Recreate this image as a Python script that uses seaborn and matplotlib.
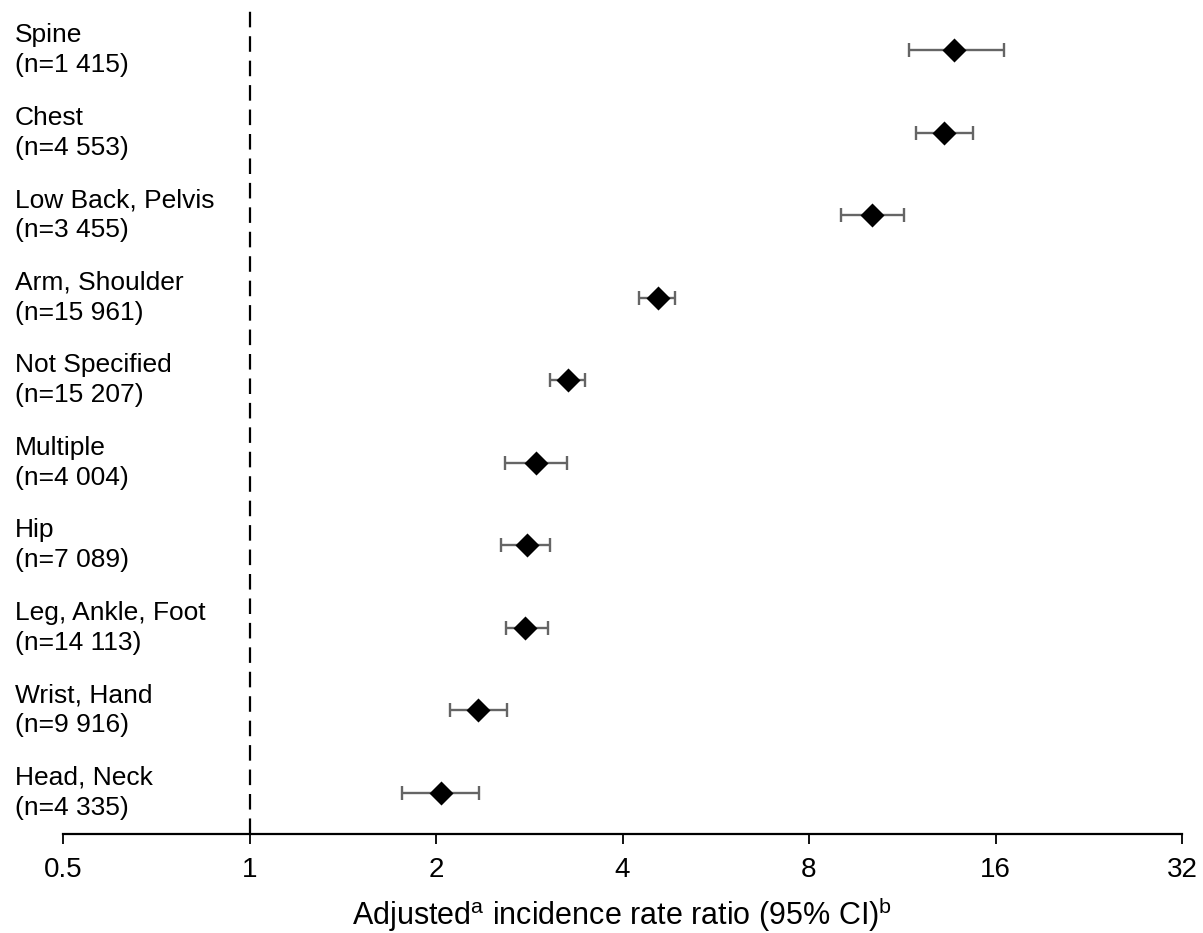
import numpy as np
import pandas as pd
import matplotlib
matplotlib.use("Agg")
import matplotlib.pyplot as plt
import matplotlib.transforms as mtransforms
import seaborn as sns

categories = ["Spine", "Chest", "Low Back, Pelvis", "Arm, Shoulder", "Not Specified",
              "Multiple", "Hip", "Leg, Ankle, Foot", "Wrist, Hand", "Head, Neck"]
counts = ["1 415", "4 553", "3 455", "15 961", "15 207",
          "4 004", "7 089", "14 113", "9 916", "4 335"]
irr = [13.7, 13.2, 10.1, 4.57, 3.27, 2.90, 2.80, 2.78, 2.34, 2.04]
ci_low = [11.6, 11.9, 9.0, 4.26, 3.06, 2.58, 2.55, 2.59, 2.11, 1.76]
ci_high = [16.5, 14.7, 11.4, 4.87, 3.48, 3.25, 3.06, 3.03, 2.60, 2.35]
x_ticks = [0.5, 1, 2, 4, 8, 16, 32]
x_tick_labels = ["0.5", "1", "2", "4", "8", "16", "32"]

sns.set_theme(style="white")
plt.rcParams["font.family"] = ["Liberation Sans", "DejaVu Sans"]
plt.rcParams["mathtext.fontset"] = "custom"
plt.rcParams["mathtext.rm"] = "Liberation Sans"
plt.rcParams["mathtext.it"] = "Liberation Sans:italic"
plt.rcParams["text.color"] = "black"
plt.rcParams["axes.labelcolor"] = "black"
plt.rcParams["xtick.color"] = "black"

df = pd.DataFrame({"cat": categories, "irr": irr, "lo": ci_low, "hi": ci_high})
df["pos"] = np.arange(len(df))

fig = plt.figure(figsize=(12.03, 9.33), dpi=100)
ax = fig.add_axes([63 / 1203, 99 / 933, (1182 - 63) / 1203, (834 - 9) / 933])
ax.set_xscale("log", base=2)

ax.errorbar(df["irr"], df["pos"],
            xerr=[df["irr"] - df["lo"], df["hi"] - df["irr"]],
            fmt="none", ecolor="#656565", elinewidth=1.7, capsize=5, capthick=1.7, zorder=2)
sns.scatterplot(data=df, x="irr", y="pos", marker="D", color="black", s=150,
                edgecolor="black", linewidth=0, ax=ax, zorder=3)

ax.axvline(1, color="black", linestyle=(0, (7, 4)), linewidth=1.6, zorder=1)

ax.set_xlim(0.5, 32)
ax.set_ylim(len(df) - 0.5, -0.5)
ax.set_xticks(x_ticks)
ax.set_xticklabels(x_tick_labels, fontsize=20)
ax.minorticks_off()
ax.set_yticks([])
ax.set_ylabel("")
ax.set_xlabel(r"Adjusted$^{\mathrm{a}}$ incidence rate ratio (95% CI)$^{\mathrm{b}}$",
              fontsize=22, labelpad=9)

for side in ["top", "right", "left"]:
    ax.spines[side].set_visible(False)
ax.spines["bottom"].set_color("black")
ax.spines["bottom"].set_linewidth(1.6)
ax.tick_params(axis="x", direction="out", length=7.5, width=1.3, color="black", pad=9,
               bottom=True)

trans = mtransforms.blended_transform_factory(fig.transFigure, ax.transData)
for i, (c, n) in enumerate(zip(categories, counts)):
    ax.text(15 / 1203, i, f"{c}\n(n={n})", transform=trans, ha="left", va="center",
            fontsize=19, linespacing=1.3, clip_on=False, color="black")

fig.savefig("out.png", dpi=100)
